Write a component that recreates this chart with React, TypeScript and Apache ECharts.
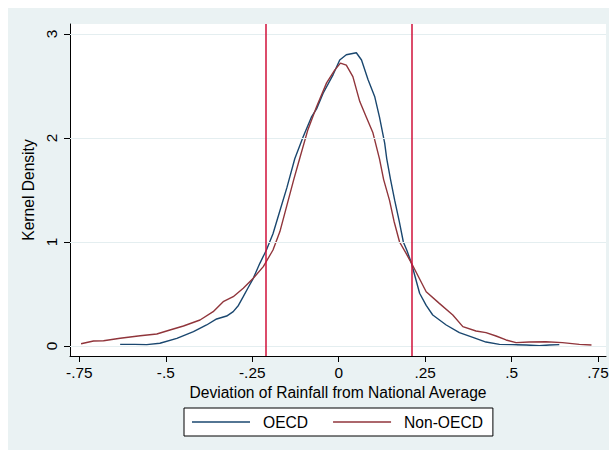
import React, { useEffect, useRef } from "react";
import * as echarts from "echarts";

const oecdX = [-0.632, -0.59, -0.555, -0.517, -0.468, -0.42, -0.382, -0.353, -0.324, -0.305, -0.29, -0.276, -0.262, -0.247, -0.228, -0.209, -0.19, -0.17, -0.15, -0.127, -0.103, -0.079, -0.064, -0.045, -0.016, 0.003, 0.022, 0.051, 0.066, 0.085, 0.104, 0.118, 0.133, 0.139, 0.15, 0.162, 0.175, 0.187, 0.197, 0.21, 0.234, 0.253, 0.272, 0.311, 0.349, 0.388, 0.426, 0.465, 0.503, 0.542, 0.58, 0.609, 0.638];
const oecdY = [0.016, 0.016, 0.013, 0.026, 0.074, 0.138, 0.202, 0.26, 0.288, 0.33, 0.39, 0.474, 0.56, 0.651, 0.795, 0.923, 1.08, 1.3, 1.52, 1.8, 2.01, 2.2, 2.28, 2.43, 2.61, 2.75, 2.8, 2.82, 2.75, 2.56, 2.4, 2.2, 1.95, 1.8, 1.6, 1.4, 1.2, 1.0, 0.92, 0.8, 0.507, 0.39, 0.298, 0.202, 0.128, 0.083, 0.038, 0.016, 0.013, 0.01, 0.003, 0.01, 0.013];

const nonOecdX = [-0.745, -0.709, -0.68, -0.632, -0.574, -0.526, -0.488, -0.449, -0.401, -0.363, -0.334, -0.305, -0.276, -0.247, -0.218, -0.19, -0.17, -0.15, -0.13, -0.113, -0.089, -0.064, -0.035, -0.012, 0.005, 0.022, 0.041, 0.061, 0.08, 0.099, 0.118, 0.13, 0.147, 0.16, 0.176, 0.195, 0.21, 0.253, 0.291, 0.33, 0.359, 0.397, 0.426, 0.455, 0.484, 0.513, 0.551, 0.599, 0.647, 0.696, 0.731];
const nonOecdY = [0.022, 0.048, 0.051, 0.074, 0.099, 0.115, 0.154, 0.192, 0.25, 0.33, 0.426, 0.474, 0.555, 0.651, 0.763, 0.923, 1.1, 1.35, 1.6, 1.8, 2.08, 2.3, 2.53, 2.65, 2.72, 2.7, 2.59, 2.35, 2.2, 2.05, 1.8, 1.6, 1.4, 1.2, 1.0, 0.89, 0.8, 0.522, 0.41, 0.298, 0.186, 0.144, 0.128, 0.096, 0.058, 0.032, 0.038, 0.041, 0.032, 0.016, 0.01];

const xTicks = [-0.75, -0.5, -0.25, 0, 0.25, 0.5, 0.75];
const xTickLabels = ["-.75", "-.5", "-.25", "0", ".25", ".5", ".75"];
const yTicks = [0, 1, 2, 3];
const yTickLabels = ["0", "1", "2", "3"];
const cutoffs = [-0.21, 0.21];

const FONT = "Liberation Sans, Arial, sans-serif";
const FS = 15.4;

export default function App() {
  const ref = useRef<HTMLDivElement>(null);
  useEffect(() => {
    if (!ref.current) return;
    const chart = echarts.init(ref.current, undefined, { renderer: "svg" });
    const zip = (xs: number[], ys: number[]) => xs.map((x, i) => [x, ys[i]]);
    const fmt = (vals: number[], labels: string[]) => (v: number) => {
      const i = vals.findIndex((t) => Math.abs(t - v) < 1e-6);
      return i >= 0 ? labels[i] : "";
    };
    chart.setOption({
      animation: false,
      backgroundColor: "#eaf2f3",
      textStyle: { fontFamily: FONT },
      grid: {
        left: 62,
        top: 16,
        right: 3,
        bottom: 94,
        show: true,
        backgroundColor: "#ffffff",
        borderWidth: 0,
        containLabel: false,
        outerBoundsMode: "none",
      },
      legend: {
        data: [
          { name: "OECD", icon: "rect" },
          { name: "Non-OECD", icon: "rect" },
        ],
        left: 176,
        top: 400,
        orient: "horizontal",
        backgroundColor: "#ffffff",
        borderColor: "#000000",
        borderWidth: 1,
        borderRadius: 0,
        padding: [6, 10, 6, 8],
        itemWidth: 58,
        itemHeight: 1.5,
        itemGap: 25,
        textStyle: { fontFamily: FONT, fontSize: 15.6, color: "#000", padding: [0, 0, 0, 8] },
      },
      xAxis: {
        type: "value",
        min: -0.777,
        max: 0.773,
        name: "Deviation of Rainfall from National Average",
        nameLocation: "middle",
        nameGap: 20,
        nameTextStyle: { fontFamily: FONT, fontSize: 15.6, color: "#000" },
        axisLine: { show: true, onZero: false, lineStyle: { color: "#000", width: 1 } },
        axisTick: { show: true, length: 6, customValues: xTicks, lineStyle: { color: "#000" } },
        axisLabel: {
          customValues: xTicks,
          formatter: fmt(xTicks, xTickLabels),
          fontFamily: FONT,
          fontSize: FS,
          color: "#000",
          margin: 9,
        },
        splitLine: { show: false },
      },
      yAxis: {
        type: "value",
        min: -0.0962,
        max: 3.0962,
        name: "Kernel Density",
        nameLocation: "middle",
        nameGap: 28,
        nameTextStyle: { fontFamily: FONT, fontSize: 15.6, color: "#000" },
        axisLine: { show: true, onZero: false, lineStyle: { color: "#000", width: 1 } },
        axisTick: { show: true, length: 6, customValues: yTicks, lineStyle: { color: "#000" } },
        axisLabel: {
          customValues: yTicks,
          formatter: fmt(yTicks, yTickLabels),
          rotate: 90,
          fontFamily: FONT,
          fontSize: FS,
          color: "#000",
          margin: 11,
        },
        splitLine: { show: false },
      },
      series: [
        {
          name: "grid",
          type: "line",
          data: [],
          z: 0,
          silent: true,
          markLine: {
            silent: true,
            symbol: "none",
            label: { show: false },
            lineStyle: { color: "#e4eef0", width: 1, type: "solid" },
            data: yTicks.map((v) => ({ yAxis: v })),
          },
        },
        {
          name: "OECD",
          type: "line",
          data: zip(oecdX, oecdY),
          showSymbol: false,
          symbol: "none",
          smooth: false,
          z: 3,
          lineStyle: { color: "#1a476f", width: 1.4 },
          itemStyle: { color: "#1a476f" },
        },
        {
          name: "Non-OECD",
          type: "line",
          data: zip(nonOecdX, nonOecdY),
          showSymbol: false,
          symbol: "none",
          smooth: false,
          z: 3,
          lineStyle: { color: "#90353b", width: 1.4 },
          itemStyle: { color: "#90353b" },
        },
        {
          name: "cutoffs",
          type: "line",
          data: [],
          z: 5,
          silent: true,
          markLine: {
            silent: true,
            symbol: "none",
            label: { show: false },
            lineStyle: { color: "#d0103a", width: 1.5, type: "solid" },
            data: cutoffs.map((v) => ({ xAxis: v })),
          },
        },
      ],
    });
    return () => chart.dispose();
  }, []);
  return (
    <div
      ref={ref}
      style={{ position: "fixed", left: 8, top: 8, width: 601, height: 442 }}
    />
  );
}
